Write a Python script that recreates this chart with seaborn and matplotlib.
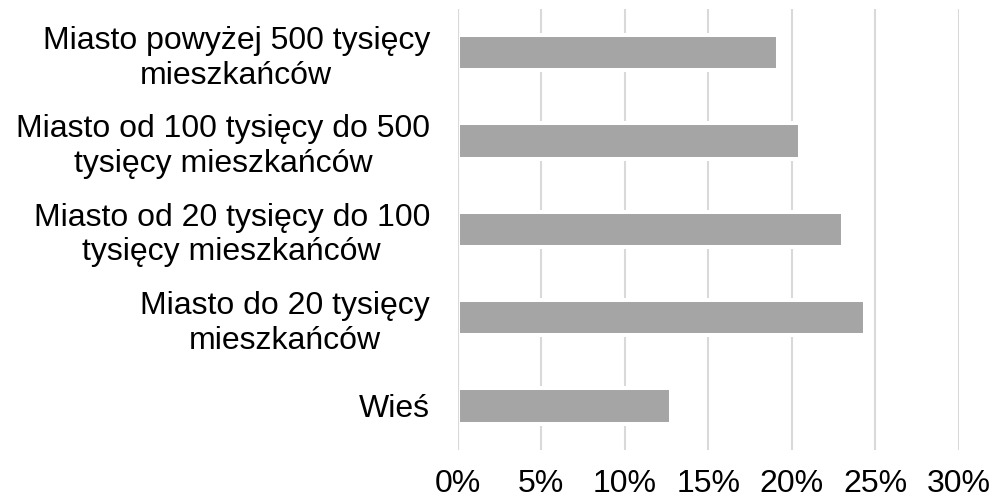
import matplotlib
matplotlib.use("Agg")
import matplotlib.pyplot as plt
import seaborn as sns
import pandas as pd
from matplotlib.ticker import FuncFormatter, MultipleLocator

categories = [
    "Miasto powyżej 500 tysięcy\nmieszkańców",
    "Miasto od 100 tysięcy do 500\ntysięcy mieszkańców",
    "Miasto od 20 tysięcy do 100\ntysięcy mieszkańców",
    "Miasto do 20 tysięcy\nmieszkańców",
    "Wieś",
]
values = [19.2, 20.5, 23.1, 24.4, 12.8]
x_ticks = [0, 5, 10, 15, 20, 25, 30]

sns.set_theme(style="white")
plt.rcParams["font.family"] = ["Liberation Sans", "DejaVu Sans"]

df = pd.DataFrame({"cat": categories, "val": values})

fig = plt.figure(figsize=(9.95, 5.0), dpi=100)
ax = fig.add_axes([0.46, 0.10, 0.5035, 0.883])

sns.barplot(data=df, x="val", y="cat", orient="h", color="#A5A5A5",
            saturation=1, width=0.4, edgecolor="white", linewidth=2.9,
            ax=ax, zorder=2)

ax.set_xlim(x_ticks[0], x_ticks[-1])
ax.set_ylim(4.5, -0.5)
ax.set_xticks(x_ticks)
ax.xaxis.set_major_formatter(FuncFormatter(lambda v, p: f"{int(round(v))}%"))
ax.xaxis.grid(True, color="#D9D9D9", linewidth=1.5, zorder=0)
ax.yaxis.grid(False)
ax.set_axisbelow(True)
ax.axvline(0, color="#D9D9D9", linewidth=1.5, zorder=3)
for s in ax.spines.values():
    s.set_visible(False)

ax.set_xlabel("")
ax.set_ylabel("")
ax.tick_params(axis="x", length=0, pad=14, labelsize=23, colors="black")
ax.tick_params(axis="y", length=0, pad=20, labelsize=23, colors="black")
for lbl in ax.get_yticklabels():
    lbl.set_multialignment("center")
    lbl.set_linespacing(1.2)

fig.savefig("out.png", dpi=100, facecolor="white")
